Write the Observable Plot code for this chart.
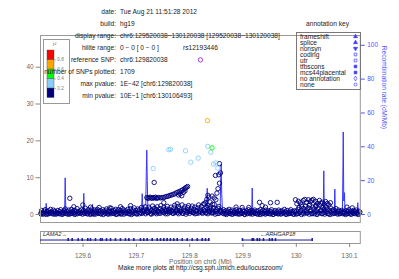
<!DOCTYPE html>
<html><head><meta charset="utf-8">
<script src="https://cdn.jsdelivr.net/npm/d3@7"></script>
<script src="https://cdn.jsdelivr.net/npm/@observablehq/plot@0.6"></script>
<style>
body{margin:0;background:#fff;}
#wrap{position:relative;width:399px;height:279px;overflow:hidden;font-family:"Liberation Sans",Arial,Helvetica,sans-serif;}
.t{position:absolute;font-size:6.6px;line-height:6.6px;color:#222;white-space:nowrap;}
</style></head><body><div id="wrap"></div>
<script>
// ---------- data ----------
const infoLabels = ["date:", "build:", "display range:", "hilite range:", "reference SNP:", "number of SNPs plotted:", "max pvalue:", "min pvalue:"];
const infoValues = ["Tue Aug 21 11:51:28 2012", "hg19", "chr6:129520038\u2212130120038 [129520038\u2212130120038]", "0 \u2212 0  [ 0 \u2212 0 ]", "chr6:129820038", "1709", "1E\u221242 [chr6:129820038]", "10E\u22121 [chr6:130106493]"];

// background SNPs (r2 < 0.2): kb offset from 129520038, -log10 p
const bgKb = [
0.5,2.1,3.8,5.2,7.0,8.9,10.4,12.1,13.9,15.3,17.2,19.0,20.6,22.3,24.1,25.8,27.4,29.3,31.0,32.6,34.5,36.2,37.9,39.6,
41.2,43.0,44.7,46.5,48.1,49.8,51.6,53.3,55.0,56.8,58.4,60.1,61.9,63.6,65.2,67.0,68.7,70.5,72.1,73.9,75.6,77.3,79.0,
80.8,82.4,84.2,85.9,87.6,89.3,91.1,92.8,94.5,96.2,98.0,99.7,101.4,103.1,104.9,106.6,108.3,110.0,111.8,113.5,115.2,116.9,118.7,
120.4,122.1,123.9,125.6,127.3,129.0,130.8,132.5,134.2,136.0,137.7,139.4,141.1,142.9,144.6,146.3,148.0,149.8,151.5,153.2,155.0,156.7,158.4,
160.1,161.9,163.6,165.3,167.0,168.8,170.5,172.2,174.0,175.7,177.4,179.1,180.9,182.6,184.3,186.1,187.8,189.5,191.2,193.0,194.7,196.4,198.2,
199.9,201.6,203.3,205.1,206.8,208.5,210.3,212.0,213.7,215.4,217.2,218.9,220.6,222.4,224.1,225.8,227.5,229.3,231.0,232.7,234.5,236.2,237.9,239.6,
241.4,243.1,244.8,246.6,248.3,250.0,251.7,253.5,255.2,256.9,258.7,260.4,262.1,263.8,265.6,267.3,269.0,270.8,272.5,274.2,275.9,277.7,279.4,
281.1,282.9,284.6,286.3,288.0,289.8,291.5,293.2,295.0,296.7,298.4,300.1,301.9,303.6,305.3,307.1,308.8,310.5,312.2,314.0,315.7,317.4,319.2,320.9,322.6,324.3,326.1,327.8,329.5,331.3,333.0,334.7,336.4,338.2,
190.5,193.9,197.3,200.8,204.2,207.6,211.1,214.5,217.9,221.4,224.8,228.2,231.7,235.1,238.5,242.0,245.4,248.8,252.3,255.7,259.1,262.6,266.0,269.4,272.9,276.3,279.7,283.2,286.6,290.0,293.5,296.9,300.3,303.8,307.2,310.6,314.1,317.5,320.9,324.4,327.8,331.2,334.7,338.1,
339.9,341.7,343.4,345.1,346.8,348.6,350.3,352.0,353.8,355.5,357.2,358.9,360.7,362.4,364.1,365.9,367.6,369.3,371.0,372.8,374.5,376.2,378.0,379.7,381.4,383.1,384.9,386.6,388.3,390.1,391.8,393.5,395.2,397.0,398.7,
400.4,402.1,403.9,405.6,407.3,409.1,410.8,412.5,414.2,416.0,417.7,419.4,421.2,422.9,424.6,426.3,428.1,429.8,431.5,433.3,435.0,436.7,438.4,440.2,441.9,443.6,445.4,447.1,448.8,450.5,452.3,454.0,455.7,457.5,459.2,460.9,462.6,464.4,466.1,467.8,469.6,471.3,473.0,474.7,476.5,478.2,
479.9,481.7,483.4,485.1,486.8,488.6,490.3,492.0,493.8,495.5,497.2,498.9,500.7,502.4,504.1,505.9,507.6,509.3,511.0,512.8,514.5,516.2,518.0,519.7,521.4,523.1,524.9,526.6,528.3,530.1,531.8,533.5,535.2,537.0,538.7,540.4,542.2,543.9,545.6,547.3,549.1,550.8,552.5,554.3,556.0,557.7,559.4,561.2,562.9,564.6,566.4,568.1,569.8,
571.5,573.3,575.0,576.7,578.5,580.2,581.9,583.6,585.4,587.1,588.8,590.6,592.3,594.0,595.7,597.5,599.2,
1.3,6.1,11.0,15.8,20.7,25.5,30.4,35.2,40.1,44.9,49.8,54.6,59.5,64.3,69.2,74.0,78.9,83.7,88.6,93.4,98.3,103.1,108.0,112.8,117.7,122.5,127.4,132.2,137.1,141.9,146.8,151.6,156.5,161.3,166.2,171.0,175.9,180.7,185.6,
344.2,349.0,353.9,358.7,363.6,368.4,373.3,378.1,383.0,387.8,392.7,397.5,402.4,407.2,412.1,416.9,421.8,426.6,431.5,436.3,441.2,446.0,450.9,455.7,460.6,465.4,470.3,475.1,
480.0,484.8,489.7,494.5,499.4,504.2,509.1,513.9,518.8,523.6,528.5,533.3,538.2,543.0,547.9,552.7,557.6,562.4,567.3,572.1,577.0,581.8,586.7,591.5,596.4
];
const bgLogP = [
0.3,1.1,0.6,0.1,0.9,1.3,0.4,0.8,0.2,1.0,0.5,1.4,0.7,0.2,1.2,0.6,0.9,0.1,0.5,1.1,0.3,0.8,1.3,0.4,
0.7,0.2,1.0,1.5,0.4,0.9,0.1,1.2,0.6,0.3,1.4,0.8,0.5,1.1,0.2,0.9,1.6,0.4,0.7,1.0,0.3,1.3,0.6,
1.1,0.4,1.7,0.8,0.2,1.3,0.6,1.0,0.3,1.5,0.7,0.1,1.2,0.5,0.9,1.4,0.3,0.8,1.1,0.2,0.6,1.3,0.9,
0.4,1.0,1.5,0.2,0.8,1.2,0.5,1.7,0.9,0.3,1.1,0.6,1.4,0.2,0.9,1.3,0.5,1.0,0.1,1.6,0.7,1.2,0.4,
1.0,0.5,1.4,0.8,0.2,1.6,0.9,0.4,1.2,1.8,0.6,1.1,0.3,1.5,0.9,1.3,0.5,1.9,1.0,0.6,1.4,2.1,0.8,
1.2,0.6,2.0,1.5,0.3,1.1,2.3,0.8,1.7,0.5,1.4,2.1,0.9,0.4,1.6,2.4,1.0,0.6,1.9,1.3,0.2,1.5,2.2,0.9,
1.4,0.7,2.0,1.1,0.4,1.8,2.5,0.9,1.3,0.5,2.2,1.6,0.8,1.2,2.6,0.3,1.5,2.1,1.0,0.6,1.9,2.4,1.2,
0.8,1.7,2.3,0.5,1.4,2.0,1.1,0.3,1.8,2.6,0.9,1.5,2.2,0.6,1.3,2.8,1.0,0.4,1.9,2.4,0.7,1.6,2.1,1.2,0.5,1.8,2.7,0.9,1.4,0.3,1.7,2.2,1.0,0.6,
0.3,0.9,0.2,0.5,0.8,0.1,0.4,1.0,0.2,0.7,0.3,1.1,0.5,0.8,0.2,0.6,0.9,0.3,0.5,1.0,0.2,0.7,0.4,0.9,0.1,0.6,0.3,0.8,0.5,0.2,1.0,0.4,0.7,0.3,0.9,0.5,0.2,0.8,0.4,0.6,0.1,0.9,0.3,0.7,
1.0,0.4,1.3,0.7,0.2,1.1,0.5,0.9,1.4,0.3,0.8,1.2,0.1,0.6,1.0,0.4,1.3,0.7,0.2,0.9,1.1,0.5,0.3,1.2,0.8,0.1,0.6,1.0,0.4,1.3,0.7,0.2,1.1,0.5,0.9,
0.6,1.2,0.3,0.9,0.1,1.0,0.5,1.3,0.7,0.2,1.1,0.4,0.8,1.2,0.3,0.6,1.0,0.2,0.9,1.3,0.5,0.1,0.7,1.1,0.4,0.8,0.2,1.2,0.6,0.9,0.3,1.0,0.5,1.4,0.7,0.2,1.1,0.6,0.3,0.9,1.3,0.4,0.8,0.1,1.0,0.6,
0.9,0.3,1.4,1.9,0.6,1.2,2.1,0.4,1.6,0.9,2.3,1.1,0.5,1.8,2.4,0.8,1.3,0.2,2.0,1.5,0.7,2.2,1.0,0.4,1.7,2.5,0.9,1.2,0.3,1.9,1.4,0.6,2.1,0.8,1.5,0.2,1.1,1.8,0.5,0.9,1.3,0.3,1.0,1.6,0.4,0.8,1.2,0.2,0.7,1.1,0.5,0.9,0.3,
0.6,1.0,0.2,0.8,1.3,0.4,0.9,0.1,0.7,1.1,0.3,0.8,1.2,0.5,0.2,0.9,0.6,
0.1,0.3,0.0,0.2,0.4,0.1,0.3,0.2,0.0,0.4,0.2,0.1,0.3,0.0,0.2,0.4,0.1,0.3,0.2,0.0,0.3,0.1,0.4,0.2,0.0,0.3,0.1,0.2,0.4,0.0,0.2,0.3,0.1,0.4,0.2,0.0,0.3,0.1,0.2,
0.2,0.0,0.3,0.1,0.4,0.2,0.1,0.3,0.0,0.2,0.4,0.1,0.3,0.2,0.0,0.3,0.1,0.4,0.2,0.0,0.3,0.2,0.1,0.4,0.0,0.2,0.3,0.1,
0.1,0.3,0.0,0.2,0.4,0.1,0.3,0.2,0.0,0.4,0.2,0.1,0.3,0.0,0.2,0.4,0.1,0.3,0.2,0.0,0.3,0.1,0.4,0.2,0.0
];
// elevated SNPs with r2 < 0.2: [kb, -log10 p]
const hiSnps = [
[55.0,4.4],[79.4,2.6],[62.5,2.1],[93.8,2.0],[150.1,2.1],[168.9,2.4],[110,1.9],[130,1.8],
[199.5,4.6],[201.5,4.4],[203.5,4.5],[205.5,4.7],[207.5,4.5],[209.5,4.4],[211.5,4.6],[213.5,4.5],[215.5,4.7],[217.5,4.4],[219.5,4.5],[221.5,4.6],
[213.3,8.7],
[225,4.5],[228,4.6],[231,4.6],[234,4.8],[237,4.9],[240,5.0],[243,5.2],[246,5.3],[249,5.5],[252,5.6],[255,5.9],[258,6.1],[261,6.2],[264,6.5],[267,6.7],[270,7.0],[272,7.2],[274,7.4],[276,7.6],
[262,5.6],[268,6.0],[271,6.4],[265,5.1],[259,5.3],[231.3,3.2],[256.5,2.9],
[335.8,13.8],[328.3,10.6],[334.5,10.8],[337.7,11.3],[335.8,8.5],[333,7.0],[331,5.8],[326,4.5],[322,5.0],[316,4.7],[312,4.1],[318,3.4],[310,3.3],[306,2.9],[323,2.8],[329,4.0],[314,5.2],
[367,2.0],[378.4,1.9],[390.8,1.9],[410.9,3.3],[416,2.4],[431.5,3.2],[444.1,3.3],[422.1,2.0],
[478.4,4.0],[484,3.6],[487.6,3.2],[493.2,3.8],[498.9,3.3],[502.6,4.0],[506.4,3.5],[512,4.1],[515.8,3.6],[519.5,3.0],[523.3,3.8],[528.9,3.3],[532.6,2.8],[538.3,3.0],
[481,2.9],[490,2.6],[496,4.1],[505,2.7],[509,3.9],[517,2.5],[526,3.1],[535,3.5],[541,2.6],[544,3.2],[575,2.0],[585,1.8]
];
// SNPs in LD with the reference: [kb, -log10 p, r2]
const ldSnps = [
[211.4,12.5,0.3],[240.7,17.6,0.3],[243.9,17.7,0.3],[272.0,17.3,0.3],[282.0,14.2,0.3],[295.9,15.3,0.3],
[313.8,18.5,0.3],[319.5,16.9,0.3],[324.5,13.7,0.3],[329.0,14.0,0.3],[332.6,12.6,0.3],
[321.8,18.1,0.5],[313.3,25.5,0.7]
];
const refKb = 300, refLogP = 42, refName = "rs12193446";

// recombination rate (cM/Mb)
const recKb = [0,5,9.5,10.7,12,20,30,40,45.3,46.3,47.5,55,65,75,80.2,81.2,82.3,90,96.6,97.6,98.7,110,125,140,155,170,185,189.8,190.8,192,197.5,198.5,199.4,200.3,201.5,205,215,230,250,270,290,305,311.8,312.8,313.8,325,337,338,339,340,341.5,355,375,396.2,397.2,398.2,420,445,470,500,520,530.5,531.5,532.5,545,551.2,552.2,553.2,560,566.5,567.5,568,569,570.3,571.3,580,590,594.3,595.3,596.3,600];
const recRate = [1.2,0.8,1.0,6.6,0.9,1.5,0.6,1.1,1.5,21.7,2.0,0.7,1.3,0.9,1.4,12.5,1.1,0.8,1.2,6.0,0.9,1.4,0.6,1.0,1.3,0.7,1.8,3.5,12.3,4.0,6.0,25,38,20,3.0,1.5,0.8,1.2,0.9,1.5,0.7,1.1,2.0,15.5,1.5,1.0,3.0,18,29.8,12,1.8,0.9,1.3,0.8,15.6,1.0,1.2,0.6,1.4,0.9,1.6,2.0,25.8,2.0,1.0,1.5,15,1.4,0.8,2.0,30,48.8,8.0,12.9,1.5,1.0,0.7,1.2,7.0,1.4,1.0];

const leftTicks = [0,10,20,30,40];
const rightTicks = [0,20,40,60,80,100];
const xTicks = [129.6,129.7,129.8,129.9,130,130.1];

const r2Breaks = [0,0.2,0.4,0.6,0.8,1];
const r2Colors = ["#000080","#87CEFA","#00FF00","#FFA500","#FF0000"];
const r2TickVals = [0.2,0.4,0.6,0.8];

const annNames = ["frameshift","splice","nonsyn","coding","utr","tfbscons","mcs44placental","no annotation","none"];
const annSymbols = ["triangle","triangle","triangle","square","square","square","square","diamond","circle"];
const annRotate = [0,0,180,0,0,0,0,0,0];
const annFilled = [true,true,true,false,false,true,true,false,false];

const geneNames = ["LAMA2","ARHGAP18"];
const geneStart = [129.204286,129.898806];
const geneEnd = [129.837714,130.031253];
const geneStrand = ["+","-"];
const lama2Exons = [129.5720,129.5795,129.5908,129.5983,129.6088,129.6138,129.6232,129.6326,129.6358,129.6439,129.6514,129.6607,129.6701,129.6795,129.6857,129.6951,129.7076,129.7138,129.7202,129.7296,129.7390,129.7452,129.7514,129.7577,129.7639,129.7701,129.7765,129.7859,129.7953,129.8047,129.8141,129.8234,129.8296,129.8358];
const arhgap18Exons = [129.8990,129.9172,129.9197,129.9266,129.9309,129.9384,129.9497,129.9547,129.9609,130.0298];

const xLabel = "Position on chr6 (Mb)";
const yLabelRight = "Recombination rate (cM/Mb)";
const credit = "Make more plots at http://csg.sph.umich.edu/locuszoom/";

// ---------- build ----------
const FONT = '"Liberation Sans", Arial, Helvetica, sans-serif';
const wrap = document.getElementById("wrap");
const X0 = 129.520038, X1 = 130.120038;
const toMb = kb => X0 + kb / 1000;
const K = 0.4595; // 1 cM/Mb in -log10(p) units (100 cM/Mb at the top)

const bg = bgKb.map((k, i) => ({x: toMb(k), y: bgLogP[i]}));
const hi = hiSnps.map(([k, p]) => ({x: toMb(k), y: p}));
const ld = ldSnps.map(([k, p, r]) => ({x: toMb(k), y: p, r2: r}));
const ref = [{x: toMb(refKb), y: refLogP, name: refName}];
const rec = recKb.map((k, i) => ({x: toMb(k), y: recRate[i] * K}));
const r2Color = r => r2Colors[Math.min(4, Math.floor(r / 0.2))];
const baseStyle = {fontFamily: FONT, fontSize: "6.4px", background: "transparent", overflow: "visible"};
function place(el, left, top) { el.style.position = "absolute"; el.style.left = left + "px"; el.style.top = top + "px"; wrap.appendChild(el); }

const main = Plot.plot({
  width: 399, height: 228, marginTop: 35, marginBottom: 6, marginLeft: 40, marginRight: 39.2,
  x: {domain: [X0, X1], axis: null},
  y: {domain: [-2.172, 48.608], axis: null},
  style: baseStyle,
  marks: [
    Plot.line(rec, {x: "x", y: "y", stroke: "#3535ff", strokeWidth: 1}),
    Plot.dot(bg, {x: "x", y: "y", r: 2.2, stroke: "#000080", strokeWidth: 0.9}),
    Plot.dot(hi, {x: "x", y: "y", r: 2.2, stroke: "#000080", strokeWidth: 0.9}),
    Plot.dot(ld, {x: "x", y: "y", r: 2.2, stroke: d => r2Color(d.r2), strokeWidth: 0.9}),
    Plot.dot(ref, {x: "x", y: "y", r: 2.2, stroke: "#9b30d9", strokeWidth: 0.9}),
    Plot.text(ref, {x: "x", y: "y", text: "name", dy: -12, fill: "#222", fontSize: 6.6}),
    Plot.axisY(leftTicks, {anchor: "left", tickSize: 4.5, tickPadding: 2.5, stroke: "#888", fill: "#666", label: null, fontSize: 6.4}),
    Plot.axisY(rightTicks.map(t => t * K), {anchor: "right", tickSize: 4, tickPadding: 3, tickFormat: d => String(Math.round(d / K)), stroke: "#5050ff", fill: "#5050ff", label: null, fontSize: 6.4}),
    Plot.text([yLabelRight], {frameAnchor: "right", dx: 24, rotate: 90, fill: "#5050ff", fontSize: 6.6}),
    Plot.frame({stroke: "#999"})
  ]
});
place(main, 0, 0);

const genes = geneNames.map((n, i) => ({name: n, start: geneStart[i], end: geneEnd[i], strand: geneStrand[i]}));
const exons = lama2Exons.concat(arhgap18Exons).map(p => ({x: p}));
const geneLabel = g => g.strand === "+" ? g.name + "\u2192" : "\u2190" + g.name;
const gp = Plot.plot({
  width: 399, height: 51, marginTop: 3, marginBottom: 36, marginLeft: 40, marginRight: 39.2,
  x: {domain: [X0, X1], axis: null},
  y: {domain: [0, 1], axis: null},
  style: baseStyle,
  marks: [
    Plot.frame({stroke: "#999"}),
    Plot.ruleY(genes, {x1: d => Math.max(d.start, X0), x2: d => Math.min(d.end, X1), y: 0.29, stroke: "#1a1a9a", strokeWidth: 1}),
    Plot.ruleX(exons, {x: "x", y1: 0.17, y2: 0.41, stroke: "#1a1a9a", strokeWidth: 1.6}),
    Plot.text(genes.filter(g => g.start < X0), {x: X0, y: 0.29, dy: -5.5, dx: 2.5, textAnchor: "start", text: geneLabel, fontStyle: "italic", fontSize: 5.6, fill: "#222"}),
    Plot.text(genes.filter(g => g.start >= X0), {x: d => (d.start + d.end) / 2, y: 0.29, dy: -5.5, text: geneLabel, fontStyle: "italic", fontSize: 5.6, fill: "#222"}),
    Plot.axisX(xTicks, {anchor: "bottom", tickSize: 4, tickPadding: 5.5, stroke: "#888", fill: "#666", tickFormat: d => String(d), label: null, fontSize: 6.4}),
    Plot.text([xLabel], {frameAnchor: "bottom", dy: 20, fill: "#666", fontSize: 6.6}),
    Plot.text([credit], {frameAnchor: "bottom", dy: 26, fill: "#222", fontSize: 6.6})
  ]
});
place(gp, 0, 228);

const bins = r2Colors.map((c, i) => ({lo: r2Breaks[i], hi: r2Breaks[i + 1], c}));
const lp = Plot.plot({
  width: 26, height: 64, marginTop: 0, marginBottom: 0, marginLeft: 0, marginRight: 0,
  x: {domain: [0, 1], range: [4, 11], axis: null},
  y: {domain: [0, 1], range: [58.5, 11], axis: null},
  style: Object.assign({}, baseStyle, {background: "white"}),
  marks: [
    Plot.frame({stroke: "#999"}),
    Plot.rect(bins, {x1: 0, x2: 1, y1: "lo", y2: "hi", fill: "c", stroke: "#444", strokeWidth: 0.4}),
    Plot.ruleY(r2TickVals, {x1: 1, x2: 1.3, stroke: "#888", strokeWidth: 0.6}),
    Plot.text(r2TickVals, {x: 1, y: d => d, dx: 2.8, textAnchor: "start", text: d => String(d), fill: "#777", fontSize: 4.6}),
    Plot.text(["r\u00b2"], {x: 1, y: 1, dy: -6, fill: "#666", fontSize: 5, fontStyle: "italic"})
  ]
});
place(lp, 43, 39);

const ann = annNames.map((n, i) => ({name: n, sym: annSymbols[i], rot: annRotate[i], filled: annFilled[i]}));
const kp = Plot.plot({
  width: 64, height: 57, marginTop: 0, marginBottom: 0, marginLeft: 0, marginRight: 0,
  y: {type: "point", domain: annNames, range: [2, 54], padding: 0, axis: null},
  style: baseStyle,
  marks: [
    Plot.frame({stroke: "#777"}),
    Plot.text(ann, {y: "name", text: "name", frameAnchor: "left", dx: 3.5, textAnchor: "start", fill: "#222", fontSize: 6.6}),
    Plot.dot(ann, {y: "name", frameAnchor: "right", dx: -5, symbol: "sym", rotate: "rot", r: 1.5, stroke: "#3d3dff", fill: d => d.filled ? "#3d3dff" : "none", strokeWidth: 0.7})
  ]
});
place(kp, 295.5, 32.3);

infoLabels.forEach((t, i) => {
  const yc = 12.3 + 11.97 * i;
  const a = document.createElement("div");
  a.className = "t"; a.textContent = t;
  a.style.right = (399 - 116) + "px"; a.style.top = (yc - 3.4) + "px"; a.style.textAlign = "right";
  wrap.appendChild(a);
  const b = document.createElement("div");
  b.className = "t"; b.textContent = infoValues[i];
  b.style.left = "120px"; b.style.top = (yc - 3.4) + "px";
  wrap.appendChild(b);
});
const ak = document.createElement("div");
ak.className = "t"; ak.textContent = "annotation key";
ak.style.left = "327.5px"; ak.style.top = (24.3 - 3.4) + "px"; ak.style.transform = "translateX(-50%)";
wrap.appendChild(ak);
</script></body></html>
